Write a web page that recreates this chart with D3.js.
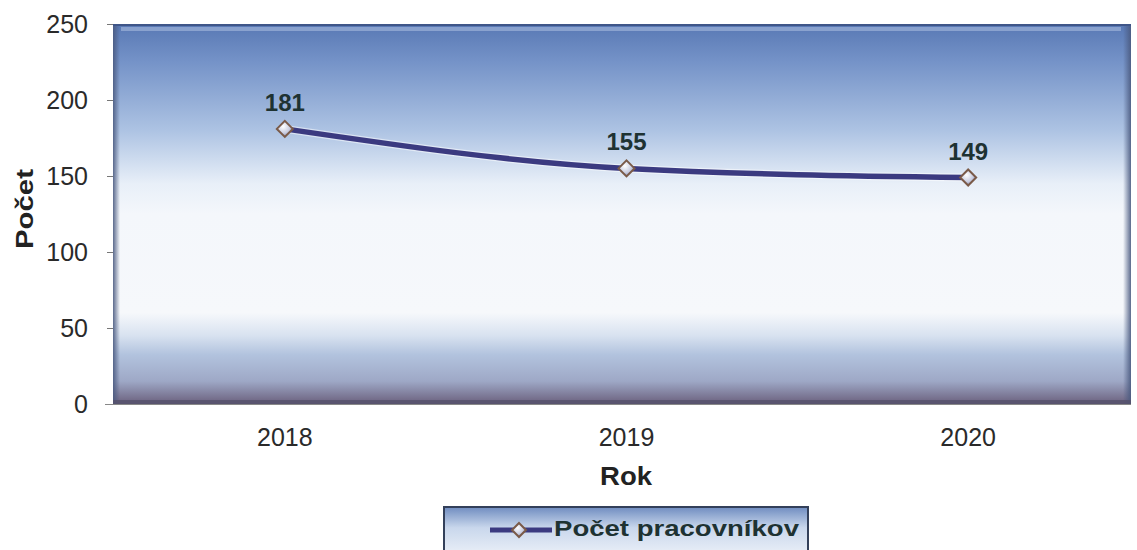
<!DOCTYPE html>
<html><head><meta charset="utf-8">
<script src="https://cdn.jsdelivr.net/npm/d3@7"></script>
<style>body{margin:0;background:#fff;}svg{display:block;font-family:Arial,"Liberation Sans",sans-serif;}</style>
</head><body>
<svg id="c" width="1137" height="550"></svg>
<script>
const categories = ["2018", "2019", "2020"];
const values = [181, 155, 149];
const yTicks = [0, 50, 100, 150, 200, 250];
const seriesName = "Počet pracovníkov";
const xTitle = "Rok";
const yTitle = "Počet";

const FONT = "Arial, 'Liberation Sans', sans-serif";
const svg = d3.select("#c");
const defs = svg.append("defs");
const g1 = defs.append("linearGradient").attr("id","bg").attr("x1",0).attr("y1",0).attr("x2",0).attr("y2",1);
[[0,"#5878b4"],[0.1,"#7593c8"],[0.28,"#adc3e3"],[0.42,"#e8eff8"],[0.5,"#f4f7fb"],[0.76,"#f6f8fb"],[0.82,"#d8e2f0"],[0.87,"#b2c3de"],[0.94,"#9ea8c6"],[1,"#6a5f7c"]]
  .forEach(([o,c])=>g1.append("stop").attr("offset",o).attr("stop-color",c));
const gL = defs.append("linearGradient").attr("id","lg").attr("x1",0).attr("y1",0).attr("x2",0).attr("y2",1);
[[0,"#6f8cc0"],[0.45,"#c9d7ec"],[1,"#e8eef7"]].forEach(([o,c])=>gL.append("stop").attr("offset",o).attr("stop-color",c));
const gM = defs.append("radialGradient").attr("id","mk").attr("cx","40%").attr("cy","35%").attr("r","70%");
[[0,"#ffffff"],[0.6,"#c8cce0"],[1,"#7a7fa8"]].forEach(([o,c])=>gM.append("stop").attr("offset",o).attr("stop-color",c));
const gE = defs.append("linearGradient").attr("id","edgeL").attr("x1",0).attr("y1",0).attr("x2",1).attr("y2",0);
[[0,"#4a5a80",0.9],[1,"#4a5a80",0]].forEach(([o,c,a])=>gE.append("stop").attr("offset",o).attr("stop-color",c).attr("stop-opacity",a));
const gR = defs.append("linearGradient").attr("id","edgeR").attr("x1",1).attr("y1",0).attr("x2",0).attr("y2",0);
[[0,"#4a5a80",0.9],[1,"#4a5a80",0]].forEach(([o,c,a])=>gR.append("stop").attr("offset",o).attr("stop-color",c).attr("stop-opacity",a));

const x = d3.scaleBand().domain(categories).range([114, 1139]);
const y = d3.scaleLinear().domain([0, 250]).range([404, 24]);

const px0 = 113, px1 = 1131, py0 = y(250), py1 = y(0);
svg.append("rect").attr("x",px0).attr("y",py0).attr("width",px1-px0).attr("height",py1-py0).attr("fill","url(#bg)");
svg.append("rect").attr("x",px0).attr("y",py0).attr("width",7).attr("height",py1-py0).attr("fill","url(#edgeL)");
svg.append("rect").attr("x",px1-8).attr("y",py0).attr("width",8).attr("height",py1-py0).attr("fill","url(#edgeR)");
svg.append("rect").attr("x",px0+8).attr("y",py0+3).attr("width",px1-px0-18).attr("height",4).attr("fill","#c0d0ea").attr("opacity",0.45);
svg.append("rect").attr("x",px0).attr("y",py0).attr("width",px1-px0).attr("height",2).attr("fill","#3f5688");
svg.append("rect").attr("x",px0).attr("y",py1-4).attr("width",px1-px0).attr("height",4).attr("fill","#54506a").attr("opacity",0.8);

// Y axis
const yAxis = svg.append("g").attr("transform",`translate(${px0},0)`)
  .call(d3.axisLeft(y).tickValues(yTicks).tickSize(6).tickPadding(19));
yAxis.select(".domain").remove();
yAxis.selectAll("line").attr("stroke","#777");
yAxis.selectAll("text").attr("font-size",25).attr("fill","#2a2a2a").style("font-family",FONT);

// X axis
const xAxis = svg.append("g").attr("transform",`translate(0,${py1})`)
  .call(d3.axisBottom(x).tickSize(0).tickPadding(24));
xAxis.select(".domain").remove();
xAxis.selectAll("text").attr("font-size",25).attr("fill","#2a2a2a").style("font-family",FONT);
svg.append("line").attr("x1",105).attr("x2",px1).attr("y1",py1+0.5).attr("y2",py1+0.5).attr("stroke","#888").attr("stroke-width",1);

// Titles
svg.append("text").attr("x",626).attr("y",485).attr("text-anchor","middle").attr("font-size",25).attr("font-weight","bold").attr("fill","#222")
  .attr("textLength",52).attr("lengthAdjust","spacingAndGlyphs").text(xTitle);
svg.append("text").attr("transform",`translate(33,209)rotate(-90)`).attr("text-anchor","middle").attr("font-size",23).attr("font-weight","bold").attr("fill","#222")
  .attr("textLength",80).attr("lengthAdjust","spacingAndGlyphs").text(yTitle);

// Line
const cx = d => x(d.c) + x.bandwidth()/2;
const data = categories.map((c,i)=>({c, v: values[i]}));
const line = d3.line().x(cx).y(d=>y(d.v)).curve(d3.curveMonotoneX);
svg.append("path").datum(data).attr("d",line).attr("fill","none").attr("stroke","#fff").attr("stroke-width",8).attr("opacity",0.5);
svg.append("path").datum(data).attr("d",line).attr("fill","none").attr("stroke","#3b3a80").attr("stroke-width",5.5);

const diamond = (s)=>`M0,${-s}L${s},0L0,${s}L${-s},0Z`;
svg.selectAll(".mk").data(data).join("path").attr("class","mk")
  .attr("transform",d=>`translate(${cx(d)},${y(d.v)})`).attr("d",diamond(8))
  .attr("fill","url(#mk)").attr("stroke","#7a5a48").attr("stroke-width",2);

svg.selectAll(".lbl").data(data).join("text").attr("class","lbl")
  .attr("x",cx).attr("y",d=>y(d.v)-18).attr("text-anchor","middle")
  .attr("font-size",24).attr("font-weight","bold").attr("fill","#1e3232").text(d=>d.v);

// Legend
const lx = 444, ly = 507, lw = 364, lh = 46;
svg.append("rect").attr("x",lx).attr("y",ly).attr("width",lw).attr("height",lh).attr("fill","url(#lg)").attr("stroke","#33405a").attr("stroke-width",2);
svg.append("line").attr("x1",490).attr("x2",552).attr("y1",530).attr("y2",530).attr("stroke","#3b3a80").attr("stroke-width",5);
svg.append("path").attr("transform","translate(519,530)").attr("d",diamond(7)).attr("fill","url(#mk)").attr("stroke","#7a5a48").attr("stroke-width",2);
svg.append("text").attr("x",554).attr("y",536).attr("font-size",22).attr("font-weight","bold").attr("fill","#1e3232")
  .attr("textLength",245).attr("lengthAdjust","spacingAndGlyphs").text(seriesName);
</script>
</body></html>
